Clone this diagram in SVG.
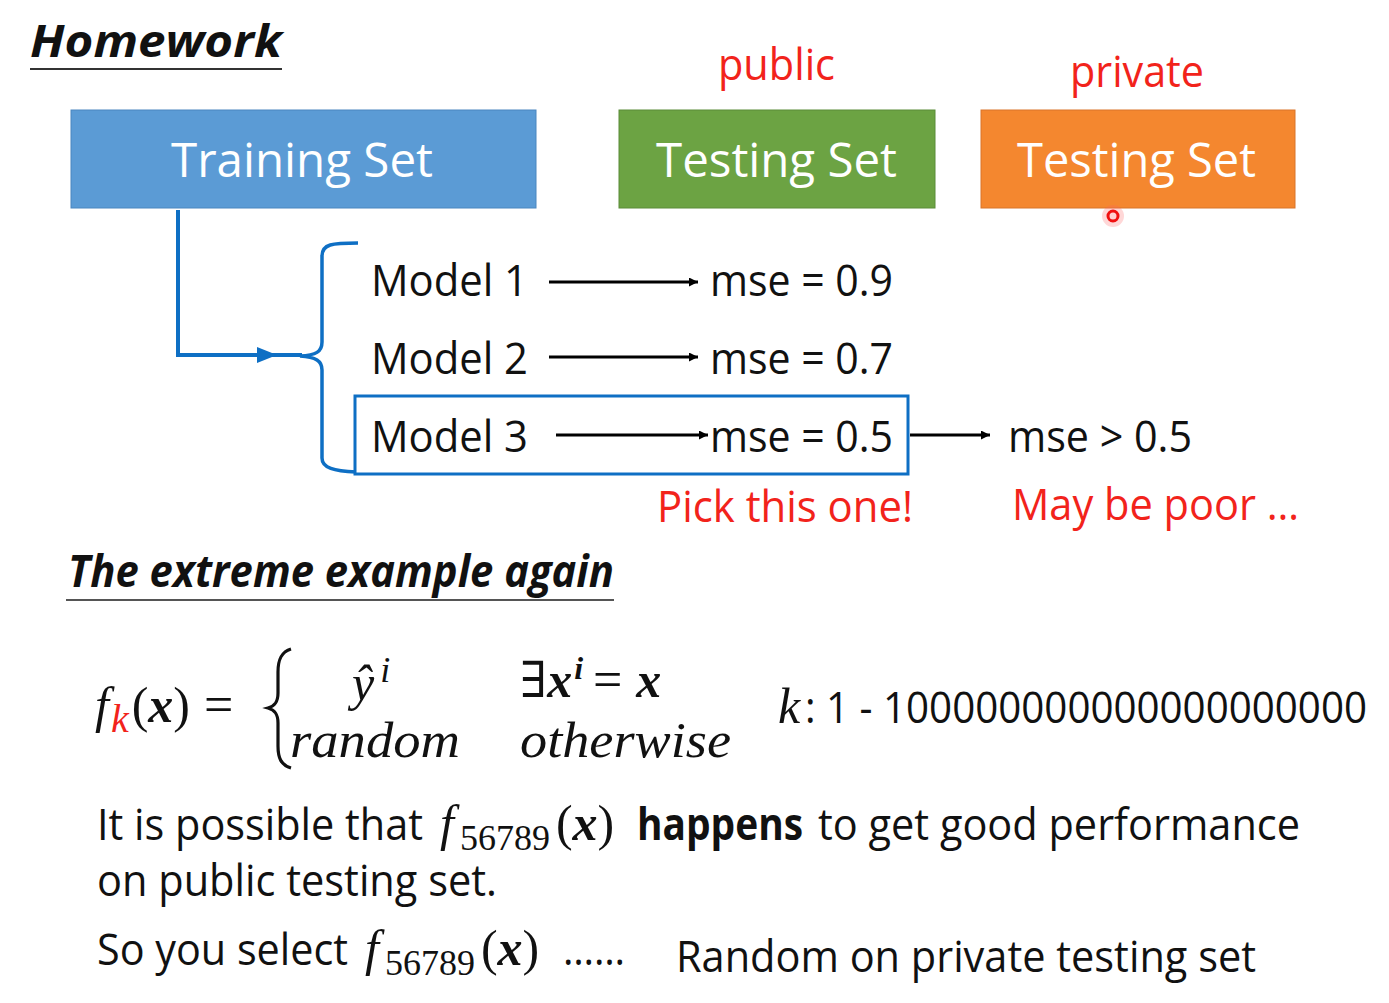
<svg xmlns="http://www.w3.org/2000/svg" width="1389" height="1003" viewBox="0 0 1389 1003">
<style>
.s{font-family:"Open Sans","Noto Sans","Liberation Sans",sans-serif;font-size:44px;fill:#111}
.w{fill:#fff;font-size:48px}
.r{fill:#f2231b}
.m{font-family:"Liberation Serif","DejaVu Serif",serif;font-style:italic;font-size:50px;fill:#111}
.mb{font-weight:bold}
.mn{font-style:normal}
.h{font-weight:bold;font-style:italic}
.blue{stroke:#0e6fc4;fill:none}
.blk{stroke:#000;stroke-width:3;fill:none}
</style>
<defs>
<marker id="ah" viewBox="0 0 10 10" refX="10" refY="5" markerWidth="3.6" markerHeight="3" orient="auto" markerUnits="strokeWidth">
<path d="M0,0 L10,5 L0,10 Z" fill="#000"/>
</marker>
</defs>
<rect width="1389" height="1003" fill="#fff"/>

<g id="title">
<text class="s h" x="30" y="57" textLength="252" lengthAdjust="spacingAndGlyphs">Homework</text>
<line x1="30" y1="69" x2="282" y2="69" stroke="#333" stroke-width="2"/>
</g>

<g id="training-set">
<rect x="71" y="110" width="465" height="98" fill="#5b9bd5" stroke="#4a86bf" stroke-width="1"/>
<text class="s w" x="171" y="177" textLength="262" lengthAdjust="spacingAndGlyphs">Training Set</text>
</g>

<g id="public-testing-set">
<text class="s r" x="718" y="80" font-size="40" textLength="117" lengthAdjust="spacingAndGlyphs">public</text>
<rect x="619" y="110" width="316" height="98" fill="#6ca343" stroke="#5a8c38" stroke-width="1"/>
<text class="s w" x="656" y="177" textLength="241" lengthAdjust="spacingAndGlyphs">Testing Set</text>
</g>

<g id="private-testing-set">
<text class="s r" x="1070" y="87" font-size="40" textLength="134" lengthAdjust="spacingAndGlyphs">private</text>
<rect x="981" y="110" width="314" height="98" fill="#f4872f" stroke="#d9742a" stroke-width="1"/>
<text class="s w" x="1017" y="177" textLength="239" lengthAdjust="spacingAndGlyphs">Testing Set</text>
<circle cx="1113" cy="216" r="11" fill="#ff6060" opacity="0.25"/>
<circle cx="1113" cy="216" r="5" fill="#ffd0d0" stroke="#f01010" stroke-width="3"/>
</g>

<g id="connectors">
<path class="blue" stroke-width="4" d="M178,210 V355 H302"/>
<path d="M257,347 L277,355 L257,363 Z" fill="#0e6fc4"/>
<path class="blue" stroke-width="3.5" d="M358,243 C332,243 322,244 322,256 V342 C322,352 316,355 300,356 C316,357 322,361 322,370 V458 C322,468 334,471 356,472"/>
<line class="blk" x1="549" y1="282" x2="698" y2="282" marker-end="url(#ah)"/>
<line class="blk" x1="549" y1="357" x2="698" y2="357" marker-end="url(#ah)"/>
<line class="blk" x1="556" y1="435" x2="708" y2="435" marker-end="url(#ah)"/>
<line class="blk" x1="910" y1="435" x2="990" y2="435" marker-end="url(#ah)"/>
</g>

<g id="model-1">
<text class="s" x="371" y="296" textLength="157" lengthAdjust="spacingAndGlyphs">Model 1</text>
<text class="s" x="710" y="296" textLength="183" lengthAdjust="spacingAndGlyphs">mse = 0.9</text>
</g>
<g id="model-2">
<text class="s" x="371" y="374" textLength="157" lengthAdjust="spacingAndGlyphs">Model 2</text>
<text class="s" x="710" y="374" textLength="183" lengthAdjust="spacingAndGlyphs">mse = 0.7</text>
</g>
<g id="model-3">
<rect x="355" y="396" width="553" height="78" fill="none" stroke="#0e6fc4" stroke-width="3"/>
<text class="s" x="371" y="452" textLength="157" lengthAdjust="spacingAndGlyphs">Model 3</text>
<text class="s" x="710" y="452" textLength="183" lengthAdjust="spacingAndGlyphs">mse = 0.5</text>
</g>
<g id="private-result">
<text class="s" x="1008" y="452" textLength="184" lengthAdjust="spacingAndGlyphs">mse &gt; 0.5</text>
</g>
<g id="labels">
<text class="s r" x="657" y="522" textLength="256" lengthAdjust="spacingAndGlyphs">Pick this one!</text>
<text class="s r" x="1012" y="520" textLength="287" lengthAdjust="spacingAndGlyphs">May be poor …</text>
</g>

<g id="subtitle">
<text class="s h" x="68" y="587" font-size="40" textLength="546" lengthAdjust="spacingAndGlyphs">The extreme example again</text>
<line x1="66" y1="600" x2="614" y2="600" stroke="#555" stroke-width="2"/>
</g>

<g id="formula">
<text class="m" x="95" y="722">f<tspan class="r" font-size="40" dx="2" dy="10">k</tspan><tspan class="mn" dx="3" dy="-10">(</tspan><tspan class="mb">x</tspan><tspan class="mn">)</tspan><tspan class="mn" dx="14" font-size="52">=</tspan></text>
<path d="M291,649 C281,652 278,660 278,672 V693 C278,702 275,706 268,708 C275,710 278,714 278,723 V746 C278,758 281,765 291,768" fill="none" stroke="#111" stroke-width="3.2"/>
<text class="m" x="352" y="700">ŷ<tspan font-size="36" dx="6" dy="-18">i</tspan></text>
<text class="m" x="290" y="757" textLength="170" lengthAdjust="spacingAndGlyphs">random</text>
<text class="m mn" x="520" y="697">∃<tspan class="mb" font-style="italic">x</tspan><tspan class="mb" font-style="italic" font-size="32" dx="2" dy="-18">i</tspan><tspan font-size="52" dx="10" dy="18">=</tspan><tspan class="mb" font-style="italic" dx="14">x</tspan></text>
<text class="m" x="520" y="757" textLength="211" lengthAdjust="spacingAndGlyphs">otherwise</text>
<text class="m r" x="778" y="723">k</text>
<text class="s" x="805" y="723" font-size="40" textLength="562" lengthAdjust="spacingAndGlyphs">: 1 - 100000000000000000000</text>
</g>

<g id="text-lines">
<text class="s" x="97" y="840" textLength="326" lengthAdjust="spacingAndGlyphs">It is possible that</text>
<text class="m" x="440" y="840">f<tspan class="mn" font-size="36" dx="6" dy="10">56789</tspan><tspan class="mn" dx="6" dy="-10">(</tspan><tspan class="mb">x</tspan><tspan class="mn">)</tspan></text>
<text class="s" x="637" y="840" font-weight="bold" textLength="166" lengthAdjust="spacingAndGlyphs">happens</text>
<text class="s" x="818" y="840" textLength="482" lengthAdjust="spacingAndGlyphs">to get good performance</text>
<text class="s" x="97" y="896" textLength="400" lengthAdjust="spacingAndGlyphs">on public testing set.</text>
<text class="s" x="97" y="965" textLength="251" lengthAdjust="spacingAndGlyphs">So you select</text>
<text class="m" x="365" y="965">f<tspan class="mn" font-size="36" dx="6" dy="10">56789</tspan><tspan class="mn" dx="6" dy="-10">(</tspan><tspan class="mb">x</tspan><tspan class="mn">)</tspan></text>
<text class="s" x="563" y="965" textLength="62" lengthAdjust="spacingAndGlyphs">……</text>
<text class="s" x="676" y="972" textLength="580" lengthAdjust="spacingAndGlyphs">Random on private testing set</text>
</g>
</svg>
